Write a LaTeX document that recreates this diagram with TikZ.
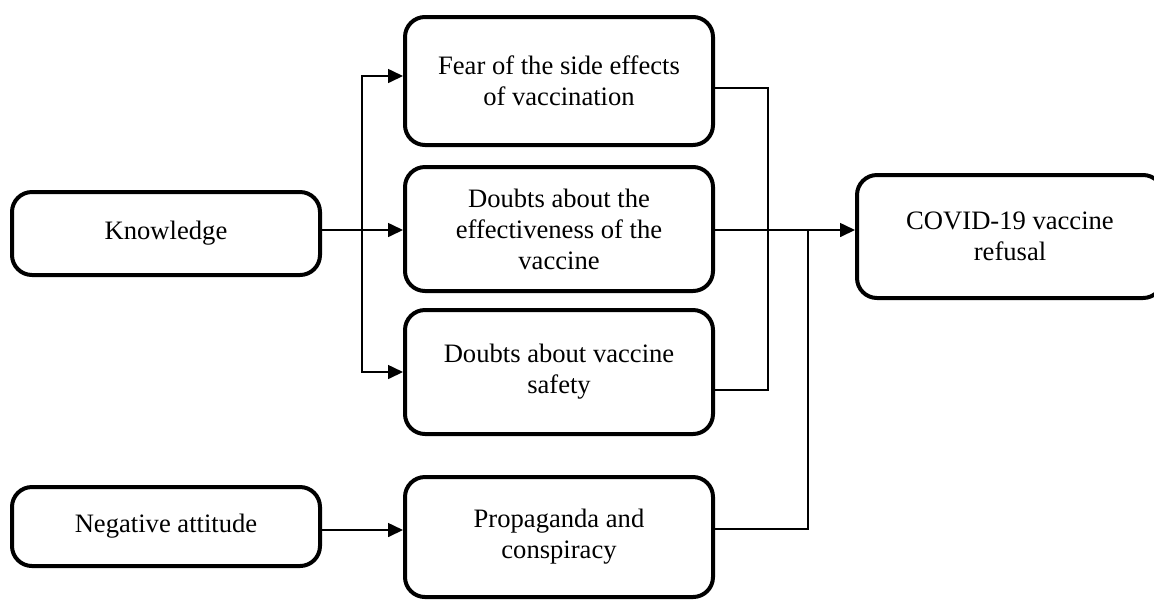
\documentclass[tikz,border=0pt]{standalone}
\usepackage{fontspec}
\setmainfont{Liberation Serif}
\usetikzlibrary{arrows.meta, positioning, calc}

\begin{document}
\begin{tikzpicture}[x=0.5pt, y=-0.5pt, >={Triangle[length=7.5pt, width=7pt]},
  factor/.style={draw=black, line width=2pt, rounded corners=10pt, align=center,
    minimum width=154pt, inner sep=0pt, font=\fontsize{13.3}{15.5}\selectfont},
  link/.style={line width=0.8pt}]

% Page size
\useasboundingbox (0,0) rectangle (1154,601);

% Left column
\node[factor, minimum height=41.5pt] (know) at (166,233.5) {Knowledge};
\node[factor, minimum height=39.5pt] (attit) at (166,526.5) {Negative attitude};

% Middle column
\node[factor, minimum height=64pt] (fear) at (559,81) {Fear of the side effects\\of vaccination};
\node[factor, minimum height=62pt] (effect) at (559,229) {Doubts about the\\effectiveness of the\\vaccine};
\node[factor, minimum height=62pt] (safety) at (559,372) {Doubts about vaccine\\safety};
\node[factor, minimum height=60pt] (propag) at (559,537) {Propaganda and\\conspiracy};

% Outcome
\node[factor, minimum height=61.5pt, minimum width=153pt] (refusal) at (1010,236.5) {COVID-19 vaccine\\refusal};

% Knowledge branches
\coordinate (split) at (362,230);
\draw[link, ->] (know.east |- split) -- (effect.west |- split);
\draw[link, ->] (split) |- ([yshift=2.5pt]fear.west);
\draw[link, ->] (split) |- (safety.west);

% Attitude
\draw[link, ->] (attit.east |- 0,530) -- (propag.west |- 0,530);

% Joins into refusal
\coordinate (joinA) at (768,230);
\coordinate (joinB) at (808,230);
\draw[link] ([yshift=-3.5pt]fear.east) -| (joinA);
\draw[link] ([yshift=-9pt]safety.east) -| (joinA);
\draw[link] ([yshift=4pt]propag.east) -| (joinB);
\draw[link, ->] (effect.east |- split) -- (refusal.west |- split);

\end{tikzpicture}
\end{document}
